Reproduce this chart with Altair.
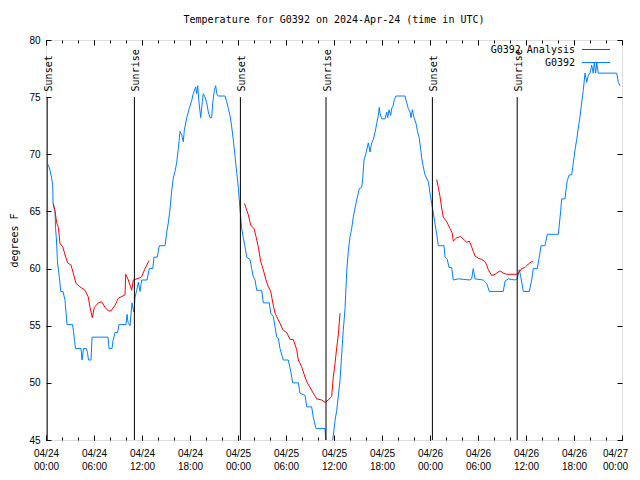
import altair as alt
import pandas as pd

# ---------------- data ----------------
blue_hours = [
    0.29, 0.5, 0.71, 0.84, 0.88, 1.13, 1.19, 1.31, 1.44, 1.66,
    1.84, 2.13, 2.38, 2.5, 2.63, 3.31, 3.44, 3.56, 3.69, 4.38,
    4.5, 4.69, 5.06, 5.19, 5.31, 5.63, 5.75, 7.75, 7.88, 8.25,
    8.38, 8.63, 8.94, 9.13, 10.0, 10.13, 10.25, 10.5, 10.75, 10.88,
    11.0, 11.13, 11.34, 11.54, 11.75, 11.96, 12.63, 12.91, 13.34, 13.5,
    13.91, 14.16, 14.88, 15.09, 15.29, 15.5, 15.71, 15.91, 16.13, 16.34,
    16.54, 16.75, 16.96, 17.16, 17.29, 17.59, 17.91, 18.21, 18.41, 18.71,
    18.84, 18.96, 19.13, 19.34, 19.54, 19.66, 19.88, 20.09, 20.29, 20.5,
    20.71, 20.84, 21.04, 21.21, 21.34, 21.5, 22.38, 22.59, 22.79, 23.0,
    23.21, 23.41, 23.63, 23.84, 24.04, 24.25, 24.46, 24.66, 24.88, 25.09,
    25.5, 25.71, 25.91, 26.13, 26.34, 26.96, 27.16, 27.91, 28.09, 28.41,
    28.63, 28.84, 29.04, 29.25, 29.66, 30.29, 30.59, 30.84, 31.54, 31.75,
    32.38, 32.59, 33.21, 33.41, 33.75, 34.88, 35.0, 35.25, 35.63, 35.84,
    36.13, 36.34, 36.75, 36.96, 37.16, 37.38, 37.59, 37.79, 38.0, 38.21,
    38.41, 38.63, 38.84, 39.16, 39.46, 39.59, 39.75, 40.0, 40.29, 40.5,
    40.71, 40.91, 41.13, 41.34, 41.54, 41.66, 41.75, 41.96, 42.38, 42.59,
    42.71, 42.88, 43.09, 43.21, 43.41, 43.54, 43.75, 44.88, 45.09, 45.29,
    45.5, 45.63, 45.79, 46.0, 46.25, 46.41, 46.66, 46.84, 46.96, 47.16,
    47.38, 47.79, 48.0, 48.21, 48.41, 48.63, 48.84, 49.04, 49.75, 49.88,
    50.16, 50.38, 50.71, 50.91, 51.54, 53.0, 53.21, 53.41, 53.63, 54.66,
    55.09, 55.41, 57.16, 57.38, 57.79, 58.63, 58.91, 59.16, 59.34, 59.66,
    60.41, 60.71, 60.91, 61.41, 61.66, 61.88, 62.38, 62.66, 64.04, 64.16,
    64.34, 64.46, 64.88, 65.0, 65.16, 65.41, 65.71, 65.84, 66.0, 66.13,
    66.34, 66.54, 66.75, 66.96, 67.16, 67.38, 67.59, 67.79, 68.0, 68.21,
    68.41, 68.54, 68.71, 68.84, 69.04, 71.34, 71.54, 71.75,
]
blue_temps = [
    69.1, 68.6, 67.9, 67.3, 65.7, 65.0, 63.6, 62.5, 60.5, 59.3,
    58.0, 58.0, 57.2, 56.2, 55.1, 55.1, 54.5, 53.7, 53.0, 53.0,
    52.0, 53.0, 53.0, 52.6, 52.0, 52.0, 54.0, 54.0, 53.0, 53.0,
    53.7, 54.4, 54.4, 55.1, 55.1, 56.0, 55.3, 55.0, 57.0, 56.5,
    56.2, 57.5, 58.1, 58.8, 58.0, 59.0, 59.0, 60.0, 60.0, 61.0,
    61.0, 62.0, 62.0, 63.2, 64.0, 65.2, 66.8, 67.9, 68.5, 69.3,
    70.5, 72.0, 71.7, 71.1, 72.1, 73.2, 74.0, 74.7, 75.3, 75.9,
    75.3, 76.0, 74.5, 73.2, 74.6, 75.3, 75.0, 74.5, 73.7, 73.2,
    73.2, 74.5, 75.6, 76.0, 75.3, 75.1, 75.1, 74.6, 74.0, 73.4,
    72.4, 71.3, 69.8, 68.4, 67.1, 65.2, 63.5, 62.7, 61.9, 61.0,
    60.8, 60.0, 59.3, 59.0, 58.1, 58.1, 57.0, 57.0, 56.1, 55.8,
    54.9, 54.0, 53.9, 53.0, 52.0, 52.0, 51.0, 50.0, 50.0, 49.1,
    48.9, 47.9, 47.9, 47.0, 46.0, 46.0, 44.5, 44.0, 44.0, 45.0,
    46.7, 47.6, 50.2, 52.5, 54.6, 56.5, 59.8, 61.5, 62.8, 63.5,
    64.5, 65.3, 66.0, 67.0, 67.1, 67.9, 69.5, 70.1, 71.0, 70.2,
    71.0, 71.3, 71.9, 72.7, 73.4, 74.1, 73.6, 73.1, 73.1, 73.7,
    73.2, 73.9, 73.4, 74.0, 74.3, 74.8, 75.1, 75.1, 74.5, 74.0,
    73.7, 73.2, 73.9, 73.2, 72.7, 72.1, 71.4, 70.4, 69.7, 68.9,
    68.2, 67.6, 66.6, 65.7, 64.9, 63.9, 63.0, 62.0, 62.0, 61.0,
    60.8, 60.1, 60.1, 59.0, 59.1, 59.0, 59.1, 60.0, 59.1, 59.0,
    58.7, 58.0, 58.0, 58.9, 59.1, 59.0, 59.1, 59.9, 59.3, 58.0,
    58.0, 59.0, 60.0, 60.0, 61.0, 62.0, 62.0, 63.0, 63.0, 63.8,
    65.1, 66.1, 66.1, 66.9, 67.7, 68.2, 68.2, 68.9, 69.7, 70.4,
    71.3, 72.3, 73.3, 74.5, 75.6, 77.1, 76.3, 76.9, 77.1, 77.8,
    77.1, 78.0, 77.1, 78.0, 77.1, 77.1, 76.3, 76.0,
]

red1_hours = [0.91, 1.13, 1.34, 1.54, 1.75, 2.09, 2.38, 2.71, 3.13, 3.41,
              3.75, 4.25, 4.88, 5.29, 5.5, 5.79, 6.04, 6.54, 6.96, 7.38,
              7.79, 8.13, 8.63, 9.04, 9.88, 9.96, 10.29, 10.71, 10.91, 11.75,
              11.96, 12.38, 12.88]
red1_temps = [65.7, 65.0, 64.0, 63.6, 62.2, 61.9, 61.2, 60.5, 60.3, 59.6,
              58.7, 58.4, 58.1, 57.5, 56.6, 55.7, 56.6, 57.0, 57.1, 56.6,
              56.3, 56.3, 56.8, 57.4, 57.7, 59.5, 59.0, 58.1, 59.0, 59.2,
              59.3, 60.0, 60.7]

red2_hours = [24.81, 25.09, 25.29, 25.59, 26.0, 26.25, 26.54, 26.84, 27.16, 27.5,
              27.79, 28.09, 28.41, 28.63, 28.84, 29.25, 29.66, 30.09, 30.5, 30.91,
              31.34, 31.54, 31.96, 32.38, 32.66, 33.0, 33.41, 33.84, 34.46, 34.88,
              35.29, 35.71, 35.91, 36.13, 36.34, 36.54, 36.75]
red2_temps = [65.7, 65.1, 64.7, 63.8, 63.5, 62.8, 61.9, 60.6, 59.9, 59.0,
              58.4, 58.0, 56.8, 56.1, 55.8, 55.2, 54.6, 54.4, 53.8, 53.8,
              52.9, 52.0, 51.4, 50.5, 50.0, 49.6, 49.1, 48.6, 48.5, 48.3,
              48.5, 48.8, 50.5, 51.7, 53.1, 54.2, 56.1]

red3_hours = [48.84, 49.04, 49.25, 49.46, 49.66, 50.09, 50.5, 50.79, 50.91, 51.34,
              51.84, 52.29, 52.59, 52.91, 53.21, 53.41, 53.63, 54.04, 54.46, 54.88,
              55.09, 55.29, 55.71, 56.13, 56.75, 57.16, 57.59, 58.84, 59.16, 59.46,
              59.88, 60.29, 60.71, 60.91]
red3_temps = [67.8, 67.1, 66.3, 65.3, 64.5, 64.1, 63.5, 63.1, 62.4, 62.7,
              62.8, 62.5, 62.3, 62.4, 61.9, 61.5, 61.1, 60.9, 60.8, 60.6,
              60.3, 59.9, 59.4, 59.5, 59.8, 59.6, 59.5, 59.5, 59.7, 60.0,
              60.1, 60.4, 60.6, 60.6]

sun_hours = [0.15, 11.05, 24.3, 35.0, 48.3, 58.9]
sun_labels = ["Sunset", "Sunrise", "Sunset", "Sunrise", "Sunset", "Sunrise"]

series_names = ["G0392 Analysis", "G0392"]
series_colors = ["#ff0000", "#0080ff"]

y_ticks = [45, 50, 55, 60, 65, 70, 75, 80]
x_major_hours = list(range(0, 73, 6))
x_minor_hours = list(range(0, 73, 2))

TITLE = "Temperature for G0392 on 2024-Apr-24 (time in UTC)"
FONT = "DejaVu Sans Mono"

# ---------------- tables ----------------
T0 = pd.Timestamp("2024-04-24 00:00:00")


def iso(h):
    return (T0 + pd.Timedelta(hours=h)).strftime("%Y-%m-%dT%H:%M:%SZ")


def dt(h):
    t = T0 + pd.Timedelta(hours=h)
    return alt.DateTime(year=t.year, month=t.month, date=t.day,
                        hours=t.hour, minutes=t.minute, utc=True)


assert len(blue_hours) == len(blue_temps)
blue_df = pd.DataFrame({"time": [iso(h) for h in blue_hours], "temp": blue_temps})

red_rows = []
for seg, (hs, ts) in enumerate([(red1_hours, red1_temps),
                                 (red2_hours, red2_temps),
                                 (red3_hours, red3_temps)]):
    assert len(hs) == len(ts)
    for h, t in zip(hs, ts):
        red_rows.append({"time": iso(h), "temp": t, "seg": seg})
red_df = pd.DataFrame(red_rows)

sun_df = pd.DataFrame({"time": [iso(h) for h in sun_hours], "label": sun_labels})

x_scale = alt.Scale(type="utc", domain=[dt(0), dt(72)], nice=False)
y_scale = alt.Scale(domain=[45, 80], nice=False, zero=False)

major_vals = [dt(h) for h in x_major_hours]
minor_vals = [dt(h) for h in x_minor_hours]

common = dict(grid=False, domain=False, tickColor="black", title=None)

# last label (04/27 00:00) nudged left so it stays inside the canvas
last_label_shift = {"condition": {"test": "datum.value >= utc(2024, 3, 27)", "value": -7},
                    "value": 0}

ax_x_bottom = alt.Axis(orient="bottom", offset=-5, values=major_vals, tickSize=5,
                       labelExpr="[utcFormat(datum.value, '%m/%d'), utcFormat(datum.value, '%H:%M')]",
                       labelPadding=8, labelLineHeight=13, labelBaseline="top",
                       labelAlign="center", labelFlush=False, labelOverlap=False,
                       labelOffset=last_label_shift,
                       **common)
ax_x_bottom_minor = alt.Axis(orient="bottom", offset=-3, values=minor_vals, tickSize=3,
                             labels=False, **common)
ax_x_top = alt.Axis(orient="top", offset=-5, values=major_vals, tickSize=5,
                    labels=False, **common)
ax_x_top_minor = alt.Axis(orient="top", offset=-3, values=minor_vals, tickSize=3,
                          labels=False, **common)

ax_y_left = alt.Axis(orient="left", offset=-5, values=y_ticks, tickSize=5,
                     labelPadding=6, grid=False, domain=False, tickColor="black",
                     title="degrees F", titleAngle=270, titleX=-37, titleY=200,
                     titleAlign="center", titleBaseline="middle",
                     titleFont=FONT, titleFontSize=10, titleFontWeight="normal",
                     titleColor="black")
ax_y_right = alt.Axis(orient="right", offset=-5, values=y_ticks, tickSize=5,
                      labels=False, **common)

blue = alt.Chart(blue_df).mark_line(color=series_colors[1], strokeWidth=1, clip=True).encode(
    x=alt.X("time:T", scale=x_scale, axis=ax_x_bottom),
    y=alt.Y("temp:Q", scale=y_scale, axis=ax_y_left),
)

red = alt.Chart(red_df).mark_line(color=series_colors[0], strokeWidth=1, clip=True).encode(
    x=alt.X("time:T", scale=x_scale, axis=ax_x_bottom_minor),
    y=alt.Y("temp:Q", scale=y_scale, axis=ax_y_right),
    detail="seg:N",
)

sun_rules = alt.Chart(sun_df).mark_rule(color="black", strokeWidth=1).encode(
    x=alt.X("time:T", scale=x_scale, axis=ax_x_top),
    y=alt.YDatum(75, axis=None),
    y2=alt.datum(45),
)

sun_text = alt.Chart(sun_df).mark_text(
    angle=270, align="left", baseline="middle", dy=2,
    font=FONT, fontSize=10, color="black",
).encode(
    x=alt.X("time:T", scale=x_scale, axis=ax_x_top_minor),
    y=alt.YDatum(75.5, axis=None),
    text="label:N",
)

legend_layers = []
for i, (name, col) in enumerate(zip(series_names, series_colors)):
    row_y = 9.5 + 13 * i
    ldf = pd.DataFrame({"name": [name]})
    legend_layers.append(
        alt.Chart(ldf).mark_text(align="right", baseline="middle", font=FONT,
                                 fontSize=10, color="black").encode(
            x=alt.value(529), y=alt.value(row_y), text="name:N")
    )
    legend_layers.append(
        alt.Chart(ldf).mark_rule(color=col, strokeWidth=1).encode(
            x=alt.value(536), x2=alt.value(564), y=alt.value(row_y))
    )

chart = alt.layer(blue, red, sun_rules, sun_text, *legend_layers).resolve_axis(
    x="independent", y="independent"
).properties(
    width=576,
    height=400,
    autosize=alt.AutoSizeParams(type="none"),
    padding={"left": 38, "top": 32, "right": 10, "bottom": 30},
    title=alt.Title(TITLE, font=FONT, fontSize=10, fontWeight="normal",
                    color="black", anchor="middle", offset=10),
).configure_view(
    stroke="black", strokeWidth=1
).configure_axis(
    labelFont=FONT, labelFontSize=10, labelColor="black"
).configure(background="white")

chart.save("out.html", embed_options={"renderer": "svg", "actions": False})
